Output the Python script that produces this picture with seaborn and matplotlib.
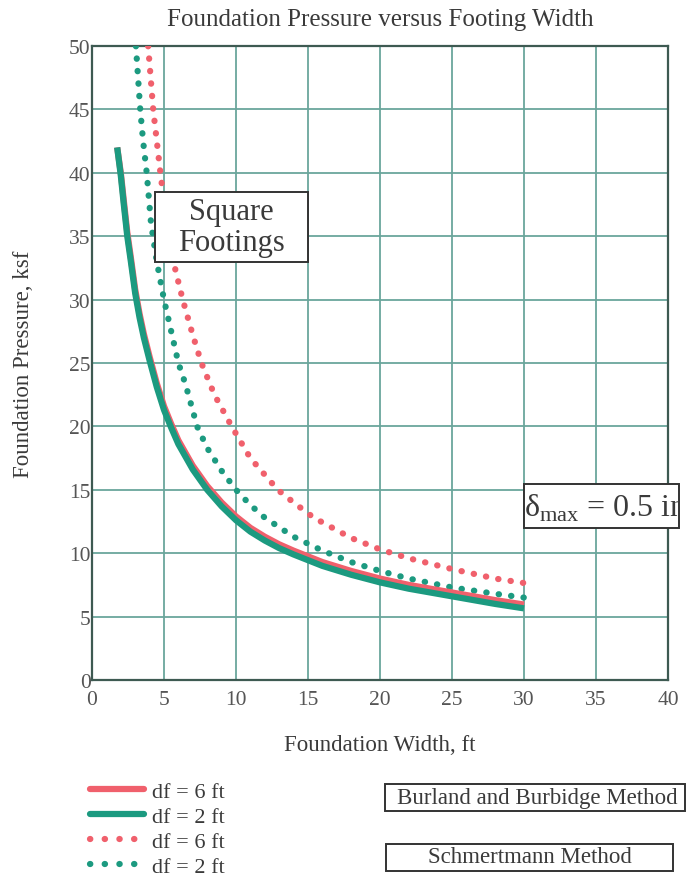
import matplotlib
matplotlib.use("Agg")
import matplotlib.pyplot as plt
from matplotlib.lines import Line2D
from matplotlib.patches import Rectangle
import seaborn as sns

# Burland and Burbidge method (solid lines)
bb_width = [1.75, 2.0, 2.2, 2.45, 2.7, 3.0, 3.3, 3.6, 4.0, 4.5, 5.0, 5.5, 6, 7, 8, 9, 10, 11, 12, 13, 14, 16, 18, 20, 22, 25, 28, 30]
bb_df2 = [42, 39.8, 37.6, 35, 33, 30.5, 28.6, 27.0, 25.2, 23.1, 21.3, 19.9, 18.6, 16.6, 15.0, 13.7, 12.6, 11.7, 11.0, 10.4, 9.9, 9.0, 8.3, 7.7, 7.2, 6.6, 6.0, 5.65]
bb_df6 = [42, 40.0, 37.9, 35.3, 33.3, 30.8, 28.9, 27.3, 25.5, 23.4, 21.6, 20.2, 18.9, 16.9, 15.3, 14.0, 12.9, 12.0, 11.3, 10.7, 10.2, 9.3, 8.6, 8.0, 7.5, 6.9, 6.3, 5.95]

# Schmertmann method (dotted lines)
sm2_width = [3.05, 3.35, 3.55, 3.8, 4.1, 4.5, 5.0, 5.5, 6.0, 6.5, 7.3, 8, 9, 10, 11, 12, 14, 16, 18, 20, 22, 25, 28, 30]
sm_df2 = [50, 45, 42.5, 40, 36, 33, 30, 27.5, 25, 23.3, 20, 18.3, 16.5, 15, 13.8, 12.8, 11.3, 10.2, 9.3, 8.6, 8.0, 7.3, 6.8, 6.5]
sm6_width = [3.9, 4.25, 4.75, 5.3, 5.8, 6.3, 7.0, 7.6, 8.5, 9.7, 11, 12.9, 14, 15.4, 18, 20, 22, 25, 28, 30]
sm_df6 = [50, 45, 40, 35, 32.3, 30, 27.2, 25, 22.5, 20, 17.5, 15, 14, 12.8, 11.2, 10.3, 9.6, 8.75, 8.0, 7.65]

x_ticks = [0, 5, 10, 15, 20, 25, 30, 35, 40]
y_ticks = [0, 5, 10, 15, 20, 25, 30, 35, 40, 45, 50]
legend_labels = ["df = 6 ft", "df = 2 ft", "df = 6 ft", "df = 2 ft"]

RED = "#f0606c"
TEAL = "#1c9a80"
GRID = "#6aa69c"
TXT = "#3a3a3a"

sns.set_style("whitegrid")
plt.rcParams["font.family"] = ["Liberation Serif", "DejaVu Serif"]
plt.rcParams["mathtext.fontset"] = "custom"
plt.rcParams["mathtext.rm"] = "Liberation Serif"

fig = plt.figure(figsize=(6.87, 8.95), dpi=100)
ax = fig.add_axes([0.1339, 0.2391, 0.8384, 0.7084])

dot = (0, (0.05, 1.95))
kw = dict(ax=ax, lw=4.5, sort=False, solid_joinstyle="round", solid_capstyle="butt")
sns.lineplot(x=sm6_width, y=sm_df6, color=RED, linestyle=dot, dash_capstyle="round", zorder=3, **kw)
sns.lineplot(x=sm2_width, y=sm_df2, color=TEAL, linestyle=dot, dash_capstyle="round", zorder=3, **kw)
sns.lineplot(x=bb_width, y=bb_df6, color=RED, zorder=4, **kw)
sns.lineplot(x=bb_width, y=bb_df2, color=TEAL, zorder=5, **kw)

ax.set_xlim(0, 40)
ax.set_ylim(0, 50)
ax.set_xticks(x_ticks)
ax.set_yticks(y_ticks)
ax.grid(True, color=GRID, lw=1.3)
for s in ax.spines.values():
    s.set_color("#3e5a52")
    s.set_linewidth(1.6)
ax.tick_params(axis="y", length=0, pad=1, labelsize=15.5, colors="#555555")
ax.tick_params(axis="x", length=0, pad=7, labelsize=15.5, colors="#555555")

ax.set_title("Foundation Pressure versus Footing Width", fontsize=18, pad=15, color=TXT)
ax.set_xlabel("Foundation Width, ft", fontsize=16.5, color=TXT)
ax.xaxis.set_label_coords(0.5, -0.085)
ax.set_ylabel("Foundation Pressure, ksf", fontsize=16.5, color=TXT)
ax.yaxis.set_label_coords(-0.1, 0.5)

# "Square Footings" box
ax.add_patch(Rectangle((4.375, 32.97), 10.625, 5.52, fc="white", ec="#333333", lw=1.4, zorder=9))
ax.text(9.69, 35.7, "Square\nFootings", fontsize=22, ha="center", va="center",
        color=TXT, zorder=10, linespacing=1.1)

# settlement box, text clipped by its frame
dbox = Rectangle((30.0, 11.99), 10.76, 3.47, fc="white", ec="#333333", lw=1.4,
                 zorder=9, clip_on=False)
ax.add_patch(dbox)
t = ax.text(30.0, 13.6, r"δ$_{\rm max}$ = 0.5 in", fontsize=23, ha="left", va="center",
            color=TXT, zorder=10)
t.set_clip_path(dbox)
t.set_clip_on(True)

dot_h = (0, (0.05, 2.3))
handles = [
    Line2D([], [], color=RED, lw=4.5),
    Line2D([], [], color=TEAL, lw=4.5),
    Line2D([], [], color=RED, lw=4.5, linestyle=dot_h, dash_capstyle="round"),
    Line2D([], [], color=TEAL, lw=4.5, linestyle=dot_h, dash_capstyle="round"),
]
leg = fig.legend(handles, legend_labels, loc="upper left", bbox_to_anchor=(0.131, 0.126),
                 frameon=False, fontsize=16, handlelength=2.45, handletextpad=0.35,
                 labelspacing=0.2, borderaxespad=0, borderpad=0)
for txt in leg.get_texts():
    txt.set_color(TXT)

fig.patches.append(Rectangle((385 / 687, 1 - 812 / 895), 300 / 687, 27 / 895,
                             transform=fig.transFigure, fc="white", ec="#333333", lw=1.4))
fig.patches.append(Rectangle((386 / 687, 1 - 872 / 895), 287 / 687, 27 / 895,
                             transform=fig.transFigure, fc="white", ec="#333333", lw=1.4))
fig.text(537 / 687, 1 - 799 / 895, "Burland and Burbidge Method", fontsize=16.5,
         ha="center", va="center", color=TXT)
fig.text(530 / 687, 1 - 858 / 895, "Schmertmann Method", fontsize=16.5,
         ha="center", va="center", color=TXT)

fig.savefig("out.png", dpi=100)
